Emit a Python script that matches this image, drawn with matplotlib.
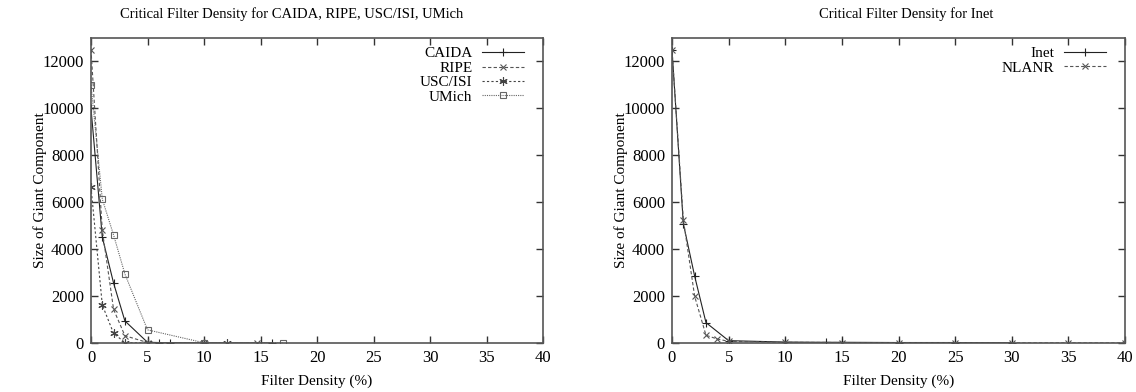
import matplotlib
matplotlib.use("Agg")
import matplotlib.pyplot as plt

# Left panel data (filter density % -> size of giant component)
caida_x = [0, 1, 2, 3, 5, 6, 7, 10, 16]
caida_y = [10000, 4510, 2550, 940, 30, 20, 10, 0, 0]
ripe_x = [0, 1, 2, 3, 5, 10, 14.7]
ripe_y = [12500, 4800, 1430, 310, 20, 0, 0]
usc_x = [0, 1, 2, 3, 5, 10, 12]
usc_y = [6640, 1620, 410, 20, 0, 0, 0]
umich_x = [0, 1, 2, 3, 5, 10, 17]
umich_y = [11000, 6130, 4600, 2940, 560, 10, 0]

# Right panel data
inet_x = [0, 1, 2, 3, 5, 10, 13.6, 15, 20, 25, 30]
inet_y = [12500, 5090, 2850, 870, 100, 40, 30, 30, 20, 20, 10]
nlanr_x = [0, 1, 2, 3, 4, 5, 10, 15, 20, 25, 30, 35, 40]
nlanr_y = [12500, 5260, 1990, 330, 170, 70, 30, 20, 10, 10, 5, 5, 0]

plt.rcParams["font.family"] = ["Liberation Serif", "DejaVu Serif"]

fig = plt.figure(figsize=(11.36, 3.92), dpi=100)
ax1 = fig.add_axes([91 / 1136, 49 / 392, 452 / 1136, 305 / 392])
ax2 = fig.add_axes([672 / 1136, 49 / 392, 453 / 1136, 305 / 392])

lw = 0.8
ax1.plot(caida_x, caida_y, color="#222222", lw=lw, ls="-", marker="+", ms=6, mew=0.8, label="CAIDA")
ax1.plot(ripe_x, ripe_y, color="#555555", lw=lw, ls=(0, (3, 2)), marker="x", ms=4.5, mew=0.8, label="RIPE")
ax1.plot(usc_x, usc_y, color="#444444", lw=lw, ls=(0, (2, 2)), marker=(6, 2, 0), ms=6, mew=0.8, label="USC/ISI")
ax1.plot(umich_x, umich_y, color="#666666", lw=lw, ls=(0, (1, 1)), marker="s", ms=5, mew=0.8,
         fillstyle="none", label="UMich")

ax2.plot(inet_x, inet_y, color="#222222", lw=lw, ls="-", marker="+", ms=6, mew=0.8, label="Inet")
ax2.plot(nlanr_x, nlanr_y, color="#555555", lw=lw, ls=(0, (3, 2)), marker="x", ms=4.5, mew=0.8, label="NLANR")

for ax in (ax1, ax2):
    ax.set_xlim(0, 40)
    ax.set_ylim(0, 13000)
    ax.set_xticks(range(0, 41, 5))
    ax.set_yticks(range(0, 12001, 2000))
    ax.tick_params(direction="in", top=True, right=True, length=5, width=1, labelsize=12,
                   color="#333333", pad=5)
    for s in ax.spines.values():
        s.set_color("#555555")
        s.set_linewidth(1.2)
    ax.set_xlabel("Filter Density (%)", fontsize=11, labelpad=6)
    ax.set_ylabel("Size of Giant Component", fontsize=11, labelpad=-3)
    ax.legend(loc="upper right", bbox_to_anchor=(1 - 8 / 452, 1 + 2 / 305),
              markerfirst=False, frameon=False, fontsize=11,
              handlelength=2.8, labelspacing=0.05, borderaxespad=0.3, handletextpad=0.6)

fig.text(292 / 1136, 1 - 14 / 392, "Critical Filter Density for CAIDA, RIPE, USC/ISI, UMich",
         ha="center", va="center", fontsize=10.5)
fig.text(906 / 1136, 1 - 14 / 392, "Critical Filter Density for Inet",
         ha="center", va="center", fontsize=10.5)

fig.savefig("out.png", dpi=100)
